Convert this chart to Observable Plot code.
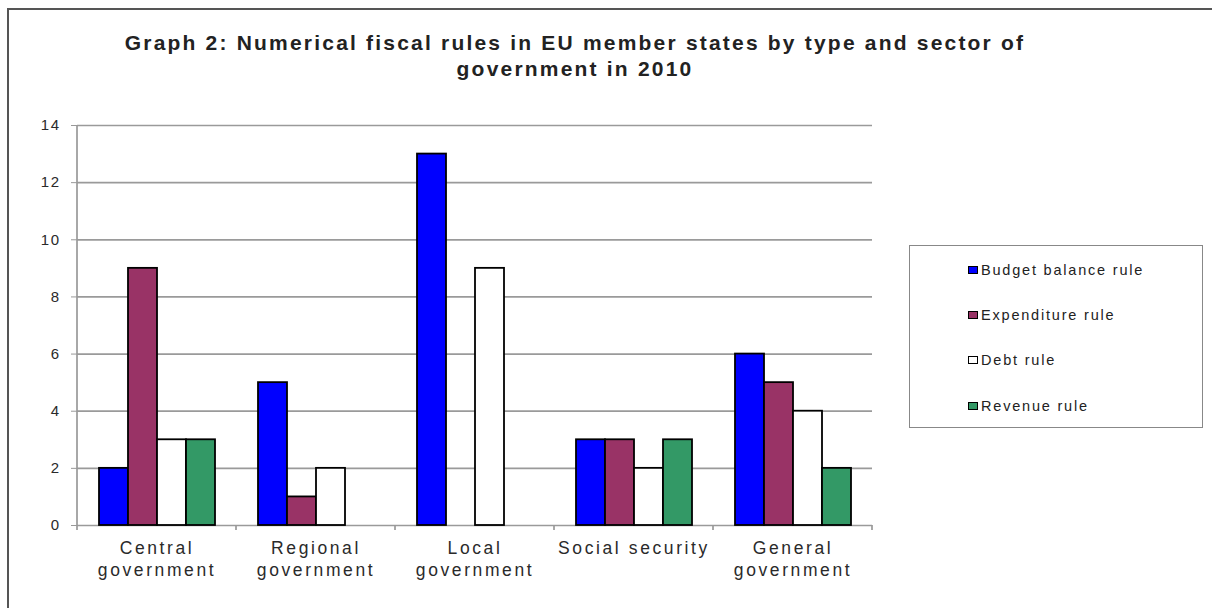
<!DOCTYPE html>
<html><head><meta charset="utf-8">
<script src="https://cdn.jsdelivr.net/npm/d3@7"></script>
<script src="https://cdn.jsdelivr.net/npm/@observablehq/plot@0.6"></script>
<style>
html,body{margin:0;padding:0;background:#fff;overflow:hidden;width:1212px;height:608px;}
#wrap{position:relative;width:1212px;height:608px;font-family:"Liberation Sans",Arial,sans-serif;overflow:hidden;}
#border{position:absolute;left:7px;top:8px;width:1240px;height:640px;border:2px solid #555;box-sizing:border-box;}
#chart{position:absolute;left:0;top:0;}
#title{position:absolute;left:0;width:1150px;top:30px;text-align:center;font-weight:bold;font-size:21px;line-height:26px;color:#222;letter-spacing:2.2px;}
#legend{position:absolute;left:909px;top:245px;width:294px;height:183px;border:1.5px solid #888;box-sizing:border-box;background:#fff;}
.item{position:absolute;left:58px;height:20px;display:flex;align-items:center;font-size:14.5px;letter-spacing:1.8px;color:#222;white-space:nowrap;}
.sw{width:8px;height:6px;border:1.3px solid #000;margin-right:3px;flex:none;}
</style>
</head><body>
<div id="wrap">
  <div id="border"></div>
  <div id="chart"></div>
  <div id="title">Graph 2: Numerical fiscal rules in EU member states by type and sector of<br>government in 2010</div>
  <div id="legend"></div>
</div>
<script>
const categories = ["Central government", "Regional government", "Local government", "Social security", "General government"];
const tickLabels = ["Central\ngovernment", "Regional\ngovernment", "Local\ngovernment", "Social security", "General\ngovernment"];
const series = ["Budget balance rule", "Expenditure rule", "Debt rule", "Revenue rule"];
const colors = ["#0000ff", "#993366", "#ffffff", "#339966"];
const budgetBalance = [2, 5, 13, 3, 6];
const expenditure = [9, 1, 0, 3, 5];
const debt = [3, 2, 9, 2, 4];
const revenue = [3, 0, 0, 3, 2];
const yTicks = [0, 2, 4, 6, 8, 10, 12, 14];

const seriesValues = [budgetBalance, expenditure, debt, revenue];
const rows = [];
categories.forEach((c, i) => {
  series.forEach((s, j) => {
    const v = seriesValues[j][i];
    if (v > 0) rows.push({category: c, series: s, value: v});
  });
});

const plot = Plot.plot({
  width: 1212, height: 608,
  marginLeft: 76, marginRight: 339, marginTop: 125, marginBottom: 83,
  style: {fontFamily: '"Liberation Sans", Arial, sans-serif', background: "transparent", color: "#333", overflow: "visible"},
  fx: {domain: categories, padding: 0, label: null},
  x: {domain: series, axis: null, paddingInner: 0, paddingOuter: 0.72},
  y: {domain: [0, 14], label: null},
  color: {domain: series, range: colors},
  marks: [
    Plot.gridY(yTicks, {stroke: "#9a9a9a", strokeOpacity: 1, strokeWidth: 1.7}),
    Plot.axisY(yTicks, {tickSize: 6, tickPadding: 11, fontSize: 15, stroke: "#999", fill: "#2a2a2a", label: null}),
    Plot.axisFx({anchor: "bottom", tickSize: 0, tickPadding: 13, fontSize: 17.5, lineHeight: 1.25, fill: "#2a2a2a",
      tickFormat: d => tickLabels[categories.indexOf(d)], label: null}),
    Plot.barY(rows, {fx: "category", x: "series", y: "value", fill: "series", stroke: "#000", strokeWidth: 1.8})
  ]
});
document.getElementById("chart").appendChild(plot);

// axis line and category boundary ticks, from the scales
const svg = d3.select(plot);
const fx = plot.scale("fx"), ys = plot.scale("y");
const y0 = ys.apply(0), yTop = ys.apply(14);
const bounds = categories.map(c => fx.apply(c));
bounds.push(fx.apply(categories[categories.length - 1]) + fx.bandwidth);
const g = svg.append("g").attr("stroke", "#999").attr("stroke-width", 1.7);
g.append("line").attr("x1", bounds[0]).attr("x2", bounds[0]).attr("y1", yTop).attr("y2", y0 + 5);
bounds.slice(1).forEach(b => g.append("line").attr("x1", b).attr("x2", b).attr("y1", y0).attr("y2", y0 + 5));

svg.selectAll('[aria-label="fx-axis tick label"] text').style("letter-spacing", "2.6px");
svg.selectAll('[aria-label="y-axis tick label"] text').style("letter-spacing", "1.5px");

// legend
const legend = document.getElementById("legend");
const rowTops = [14, 59, 104, 150];
series.forEach((s, i) => {
  const it = document.createElement("div");
  it.className = "item";
  it.style.top = rowTops[i] + "px";
  const sw = document.createElement("span");
  sw.className = "sw";
  sw.style.background = colors[i];
  it.appendChild(sw);
  it.appendChild(document.createTextNode(s));
  legend.appendChild(it);
});
</script>
</body></html>
